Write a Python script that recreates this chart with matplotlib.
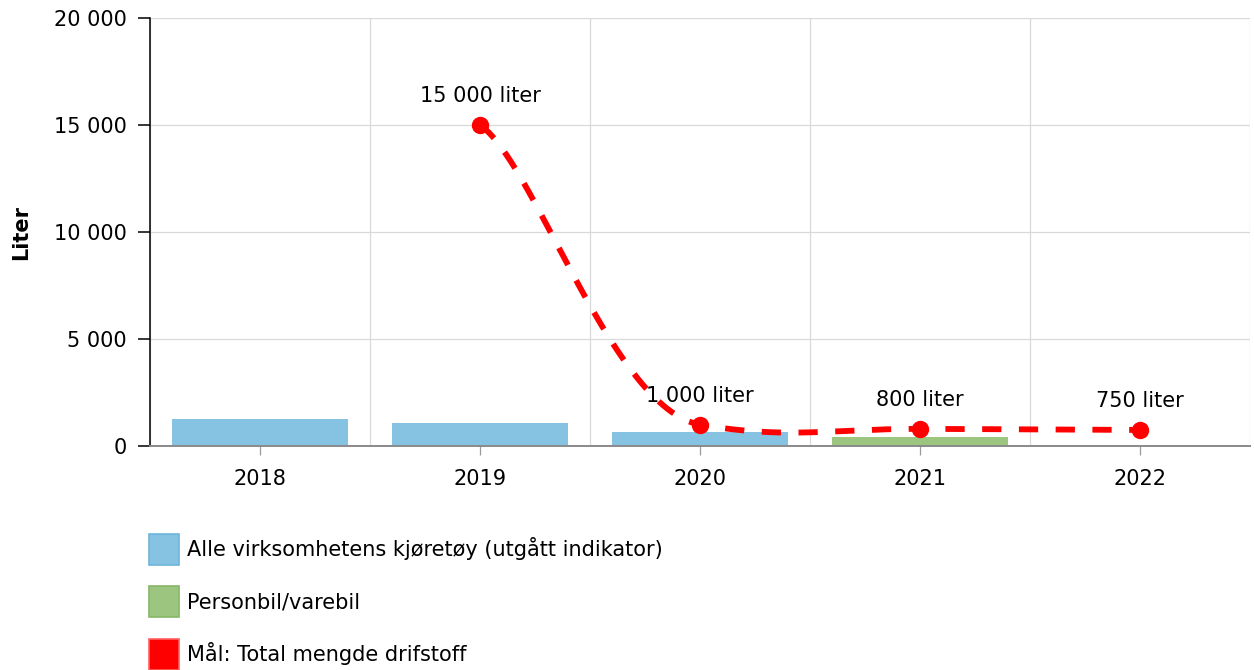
import numpy as np
import matplotlib
matplotlib.use("Agg")
import matplotlib.pyplot as plt
from matplotlib.patches import Patch
from matplotlib.ticker import FuncFormatter, FixedLocator

# ---------------- data ----------------
years = ["2018", "2019", "2020", "2021", "2022"]
alle_kjoretoy = [1260, 1070, 650, np.nan, np.nan]      # blue bars
personbil = [np.nan, np.nan, np.nan, 420, np.nan]       # green bars
maal_years = ["2019", "2020", "2021", "2022"]
maal_values = [15000, 1000, 800, 750]                   # red target line
y_ticks = [0, 5000, 10000, 15000, 20000]

series_names = ["Alle virksomhetens kjøretøy (utgått indikator)",
                "Personbil/varebil",
                "Mål: Total mengde drifstoff"]

BLUE = "#86c3e2"
BLUE_EDGE = "#6fb5da"
GREEN = "#9cc57f"
GREEN_EDGE = "#86b867"
RED = "#ff0000"

plt.rcParams["font.family"] = ["DejaVu Sans"]
FS = 15

W, H = 1254, 670
fig = plt.figure(figsize=(W / 100, H / 100), dpi=100)
ax = fig.add_axes([150 / W, (H - 446) / H, 1100 / W, 428 / H])

x = np.arange(len(years))
ax.bar(x, alle_kjoretoy, width=0.8, color=BLUE, zorder=2)
ax.bar(x, personbil, width=0.8, color=GREEN, zorder=2)

# smooth spline (cubic Bezier segments) through the target points
mx = np.array([years.index(y) for y in maal_years], dtype=float)
my = np.array(maal_values, dtype=float)
n = len(mx)
slope = np.zeros(n)
handle = np.zeros(n)
for i in range(n):
    if i == 0:
        slope[i] = 0.5 * (my[1] - my[0]) / (mx[1] - mx[0]); handle[i] = 0.25
    elif i == n - 1:
        slope[i] = 0.5 * (my[-1] - my[-2]) / (mx[-1] - mx[-2]); handle[i] = 0.25
    else:
        slope[i] = 0.25 * (my[i + 1] - my[i - 1]) / (mx[i + 1] - mx[i - 1]); handle[i] = 0.4
cx, cy = [], []
t = np.linspace(0, 1, 120)[:, None]
for i in range(n - 1):
    h = mx[i + 1] - mx[i]
    P0 = np.array([mx[i], my[i]])
    P3 = np.array([mx[i + 1], my[i + 1]])
    P1 = P0 + handle[i] * h * np.array([1.0, slope[i]])
    P2 = P3 - handle[i + 1] * h * np.array([1.0, slope[i + 1]])
    B = ((1 - t) ** 3) * P0 + 3 * ((1 - t) ** 2) * t * P1 + 3 * (1 - t) * t ** 2 * P2 + t ** 3 * P3
    cx.extend(B[:, 0]); cy.extend(B[:, 1])
ax.plot(cx, cy, color=RED, lw=4.2, dashes=(3.3, 3.0), zorder=4,
        solid_capstyle="butt", dash_capstyle="butt")
ax.plot(mx, my, "o", color=RED, markersize=11.5, zorder=5)

def fmt(v):
    return f"{int(round(v)):,}".replace(",", " ")

for xi, yi in zip(mx, my):
    ax.annotate(f"{fmt(yi)} liter", xy=(xi, yi), xytext=(0, 16.5),
                textcoords="offset points", ha="center", va="baseline",
                fontsize=FS, color="#000000", zorder=6)

# axes styling
ax.set_xlim(-0.5, len(years) - 0.5)
ax.set_ylim(y_ticks[0], y_ticks[-1])
ax.set_yticks(y_ticks)
ax.yaxis.set_major_formatter(FuncFormatter(lambda v, p: fmt(v)))
ax.set_xticks(x)
ax.set_xticklabels(years)
ax.xaxis.set_minor_locator(FixedLocator(np.arange(len(years) + 1) - 0.5))

ax.grid(axis="y", which="major", color="#d9d9d9", lw=0.9, zorder=0)
ax.grid(axis="x", which="minor", color="#d9d9d9", lw=0.9, zorder=0)
ax.grid(axis="x", which="major", visible=False)
ax.tick_params(axis="x", which="minor", length=0)
ax.tick_params(axis="x", which="major", length=6.5, width=0.9, color="#9a9a9a",
               labelsize=FS, pad=10)
ax.tick_params(axis="y", length=9, width=1.1, color="#000000",
               labelsize=FS, pad=8)

for s in ["top", "right"]:
    ax.spines[s].set_visible(False)
ax.spines["left"].set_color("#000000")
ax.spines["left"].set_linewidth(1.1)
ax.spines["left"].set_zorder(3)
ax.spines["bottom"].set_color("#8a8a8a")
ax.spines["bottom"].set_linewidth(1.4)
ax.spines["bottom"].set_zorder(3)

ax.set_ylabel("Liter", fontsize=FS, fontweight="bold", labelpad=0)
ax.yaxis.set_label_coords(-119 / 1100, 0.5)

handles = [Patch(facecolor=BLUE, edgecolor=BLUE_EDGE, lw=1.2),
           Patch(facecolor=GREEN, edgecolor=GREEN_EDGE, lw=1.2),
           Patch(facecolor=RED, edgecolor="#ff6060", lw=1.2)]
fig.legend(handles, series_names, loc="upper left",
           bbox_to_anchor=(149 / W, 1 - 534 / H), frameon=False,
           fontsize=FS, borderpad=0, borderaxespad=0,
           handlelength=1.45, handleheight=1.92, handletextpad=0.38,
           labelspacing=1.02)

fig.savefig("out.png", dpi=100)
